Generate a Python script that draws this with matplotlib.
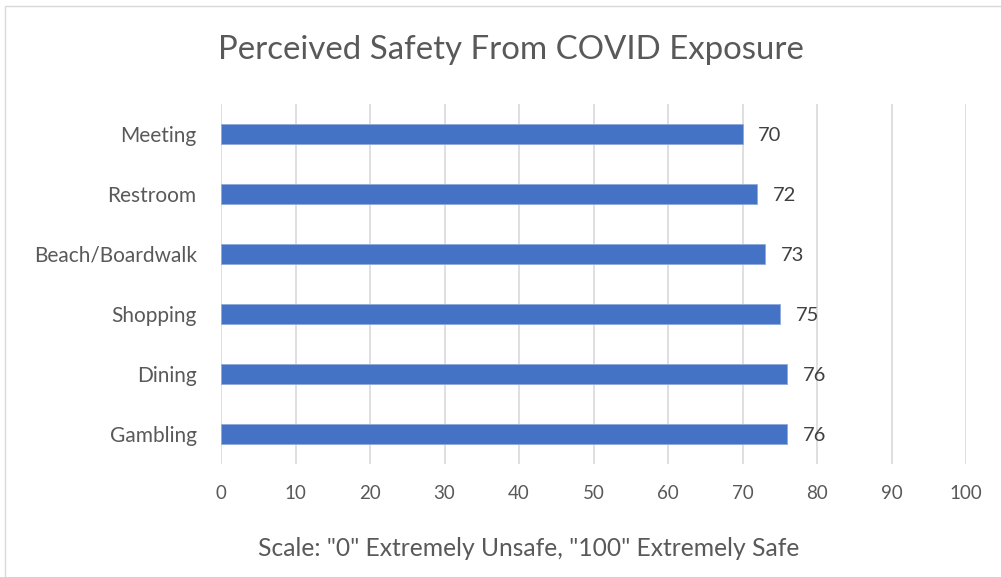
import matplotlib
matplotlib.use("Agg")
import matplotlib.pyplot as plt
from matplotlib.patches import Rectangle

categories = ["Gambling", "Dining", "Shopping", "Beach/Boardwalk", "Restroom", "Meeting"]
values = [76, 76, 75, 73, 72, 70]
xticks = [0, 10, 20, 30, 40, 50, 60, 70, 80, 90, 100]

plt.rcParams['font.family'] = ['Lato', 'DejaVu Sans']
text_color = "#595959"

fig = plt.figure(figsize=(10.01, 5.77), dpi=100)
ax = fig.add_axes([221/1001, (577-464)/577, (966-221)/1001, 360/577])

y = list(range(len(categories)))
ax.barh(y, values, height=0.34, color="#4472C4", edgecolor="#8FAADC", linewidth=0.6, zorder=3)
for yi, v in zip(y, values):
    ax.text(v + 2.1, yi - 0.02, f"{v}", va="center", ha="left", fontsize=14.5, color="#404040")

ax.set_xlim(0, 100)
ax.set_ylim(-0.5, len(categories) - 0.5)
ax.set_xticks(xticks)
ax.set_xticklabels([str(t) for t in xticks])
ax.set_yticks(y)
ax.set_yticklabels(categories)
ax.tick_params(axis='x', length=0, pad=15, labelsize=13.5, labelcolor=text_color)
ax.tick_params(axis='y', length=0, pad=17.5, labelsize=15, labelcolor=text_color)
ax.grid(axis='x', color="#D9D9D9", linewidth=1.2, zorder=0)
for s in ax.spines.values():
    s.set_visible(False)

fig.text(529/1001, 1 - 548/577, 'Scale: "0" Extremely Unsafe, "100" Extremely Safe', ha="center", va="center",
         fontsize=17.7, color=text_color)
fig.text(511/1001, 1 - 50/577, "Perceived Safety From COVID Exposure", ha="center", va="center",
         fontsize=23.8, color=text_color)

fig.patches.append(Rectangle((5/1001, -0.1), 1.2, 1 - 6/577 + 0.1, transform=fig.transFigure,
                             fill=False, edgecolor="#D9D9D9", linewidth=1))

fig.savefig("out.png", dpi=100, facecolor="white")
